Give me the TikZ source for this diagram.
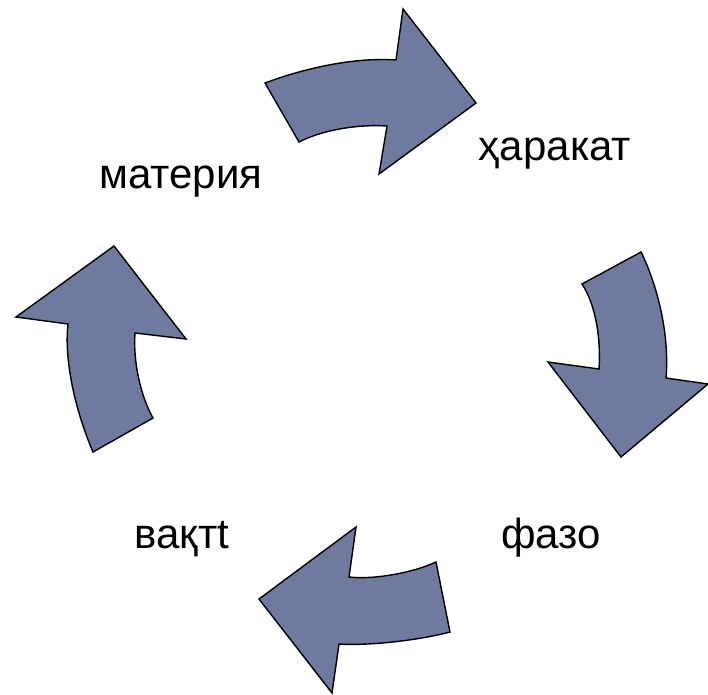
\documentclass[tikz,border=0pt]{standalone}
\usepackage{fontspec}
\setmainfont{Liberation Sans}
\definecolor{arrowfill}{RGB}{111,122,159}
\begin{document}
\begin{tikzpicture}[x=1pt,y=-1pt,
  blockarrow/.style={fill=arrowfill,draw=black,line width=1.4pt,line join=miter},
  lbl/.style={font=\fontsize{42}{50}\selectfont,anchor=base,inner sep=0pt}]
\useasboundingbox (0,0) rectangle (708,694);
% top arrow
\draw[blockarrow] (265,83) .. controls (305,68) and (355,57) .. (396,60)
  -- (403,9) -- (476,103) -- (379,174) -- (387,126)
  .. controls (355,124) and (320,131) .. (299,142) -- cycle;
% right arrow
\draw[blockarrow] (641,252) .. controls (655,280) and (670,330) .. (666,378)
  -- (708,384) -- (621,457) -- (548,362) -- (599,369)
  .. controls (601,340) and (596,305) .. (582,284) -- cycle;
% bottom arrow
\draw[blockarrow] (450,632) .. controls (420,640) and (370,646) .. (339,644)
  -- (332,693) -- (259,599) -- (356,527) -- (349,577)
  .. controls (375,580) and (415,572) .. (436,562) -- cycle;
% left arrow
\draw[blockarrow] (93,452) .. controls (75,410) and (64,360) .. (68,324)
  -- (16,317) -- (114,246) -- (186,339) -- (135,333)
  .. controls (133,360) and (140,395) .. (153,418) -- cycle;
% labels
\node[lbl] (materia) at (181,188) {материя};
\node[lbl] (harakat) at (555,160) {ҳаракат};
\node[lbl] (fazo) at (551,548) {фазо};
\node[lbl] (vaqt) at (182,548) {вақтt};
\end{tikzpicture}
\end{document}
